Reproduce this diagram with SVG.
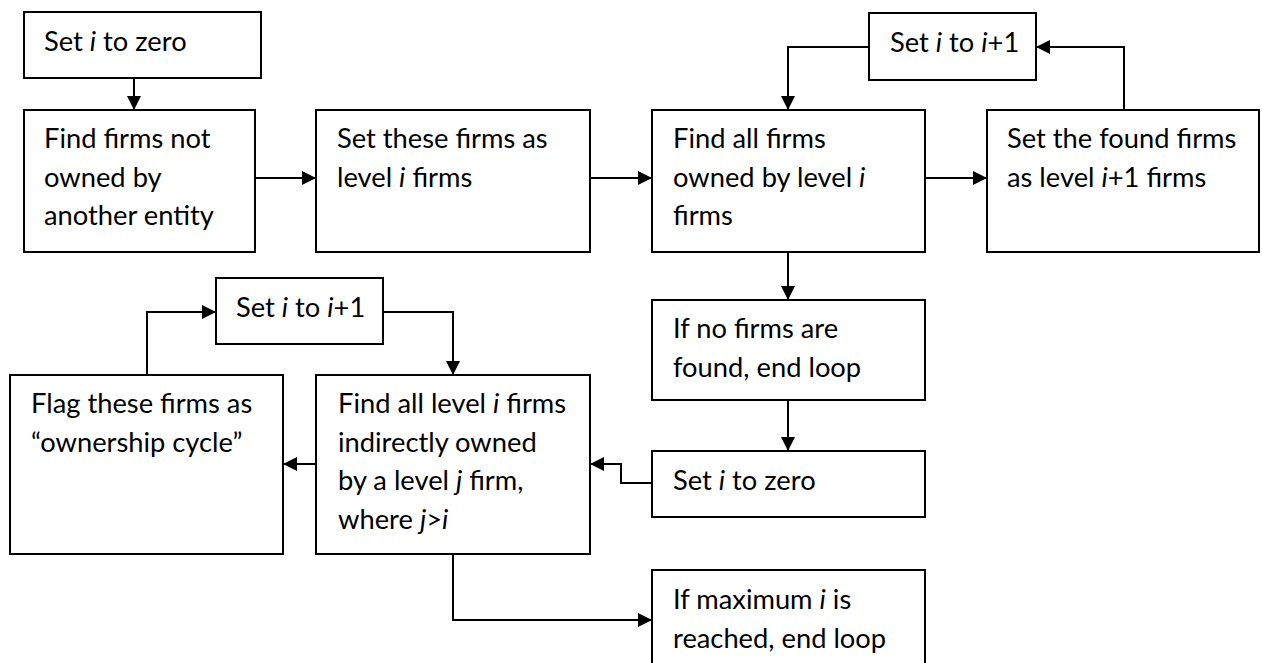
<svg xmlns="http://www.w3.org/2000/svg" width="1262" height="663" viewBox="0 0 1262 663">
<style>
.box{fill:#fff;stroke:#000;stroke-width:2}
.t{font-family:Lato,"Liberation Sans",sans-serif;font-size:27.3px;fill:#000}
.c{fill:none;stroke:#000;stroke-width:2}
</style>
<defs>
<marker id="ah" viewBox="0 0 14 14" refX="14" refY="7" markerWidth="14" markerHeight="14" markerUnits="userSpaceOnUse" orient="auto">
<path d="M0,0 L14,7 L0,14 Z" fill="#000"/>
</marker>
</defs>
<rect width="1262" height="663" fill="#fff"/>
<g id="connectors">
<path class="c" d="M134,78 V110" marker-end="url(#ah)"/>
<path class="c" d="M255,178 H316" marker-end="url(#ah)"/>
<path class="c" d="M590,178 H652" marker-end="url(#ah)"/>
<path class="c" d="M925,178 H987" marker-end="url(#ah)"/>
<path class="c" d="M1124,110 V47 H1036" marker-end="url(#ah)"/>
<path class="c" d="M869,47 H788 V110" marker-end="url(#ah)"/>
<path class="c" d="M788,252 V300" marker-end="url(#ah)"/>
<path class="c" d="M788,400 V451" marker-end="url(#ah)"/>
<path class="c" d="M652,483 H621 V464 H590" marker-end="url(#ah)"/>
<path class="c" d="M316,464 H283" marker-end="url(#ah)"/>
<path class="c" d="M147,375 V312 H216" marker-end="url(#ah)"/>
<path class="c" d="M383,312 H453 V375" marker-end="url(#ah)"/>
<path class="c" d="M453,554 V620 H652" marker-end="url(#ah)"/>
</g>
<g id="n1"><rect class="box" x="24" y="12" width="237" height="66"/><text class="t" x="44" y="51">Set <tspan font-style="italic">i</tspan> to zero</text></g>
<g id="n2"><rect class="box" x="24" y="110" width="231" height="142"/><text class="t" x="44" y="148">Find firms not</text><text class="t" x="44" y="186.5">owned by</text><text class="t" x="44" y="225">another entity</text></g>
<g id="n3"><rect class="box" x="316" y="110" width="274" height="142"/><text class="t" x="337" y="148">Set these firms as</text><text class="t" x="337" y="186.5">level <tspan font-style="italic">i</tspan> firms</text></g>
<g id="n4"><rect class="box" x="652" y="110" width="273" height="142"/><text class="t" x="673" y="148">Find all firms</text><text class="t" x="673" y="186.5">owned by level <tspan font-style="italic">i</tspan></text><text class="t" x="673" y="225">firms</text></g>
<g id="n5"><rect class="box" x="987" y="110" width="272" height="142"/><text class="t" x="1007" y="148">Set the found firms</text><text class="t" x="1007" y="186.5">as level <tspan font-style="italic">i</tspan>+1 firms</text></g>
<g id="n6"><rect class="box" x="869" y="13" width="167" height="67"/><text class="t" x="890" y="52">Set <tspan font-style="italic">i</tspan> to <tspan font-style="italic">i</tspan>+1</text></g>
<g id="n7"><rect class="box" x="652" y="300" width="273" height="100"/><text class="t" x="673" y="338">If no firms are</text><text class="t" x="673" y="377">found, end loop</text></g>
<g id="n8"><rect class="box" x="652" y="451" width="273" height="66"/><text class="t" x="673" y="490">Set <tspan font-style="italic">i</tspan> to zero</text></g>
<g id="n9"><rect class="box" x="316" y="375" width="274" height="179"/><text class="t" x="338" y="413">Find all level <tspan font-style="italic">i</tspan> firms</text><text class="t" x="338" y="451.5">indirectly owned</text><text class="t" x="338" y="490">by a level <tspan font-style="italic">j</tspan> firm,</text><text class="t" x="338" y="528.5">where <tspan font-style="italic">j</tspan>&gt;<tspan font-style="italic">i</tspan></text></g>
<g id="n10"><rect class="box" x="216" y="278" width="167" height="66"/><text class="t" x="236" y="317">Set <tspan font-style="italic">i</tspan> to <tspan font-style="italic">i</tspan>+1</text></g>
<g id="n11"><rect class="box" x="10" y="375" width="273" height="179"/><text class="t" x="31" y="413">Flag these firms as</text><text class="t" x="31" y="452">“ownership cycle”</text></g>
<g id="n12"><rect class="box" x="652" y="570" width="273" height="100"/><text class="t" x="673" y="609">If maximum <tspan font-style="italic">i</tspan> is</text><text class="t" x="673" y="648">reached, end loop</text></g>
</svg>
